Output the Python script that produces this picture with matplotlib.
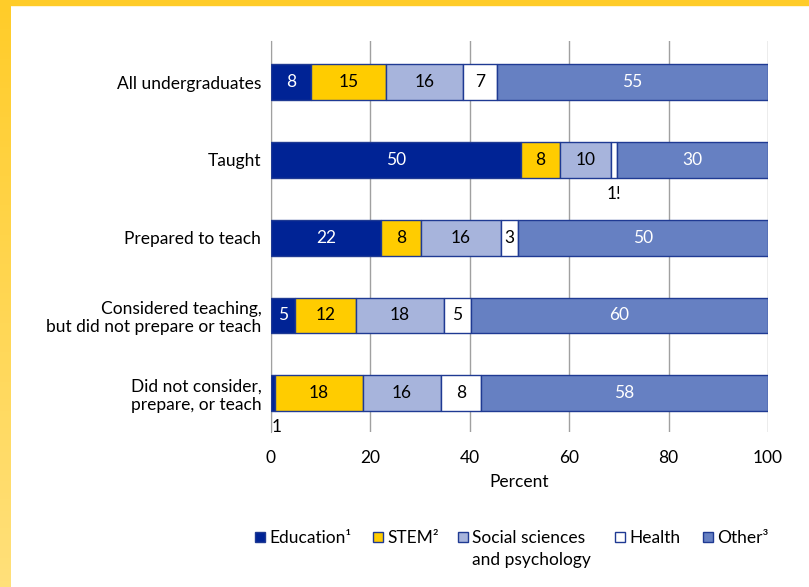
import numpy as np
import matplotlib.pyplot as plt
from matplotlib.patches import Rectangle

plt.rcParams['font.family'] = ['Lato', 'DejaVu Sans']

# data (percent)
groups = ['All undergraduates', 'Taught', 'Prepared to teach',
          'Considered teaching,\nbut did not prepare or teach',
          'Did not consider,\nprepare, or teach']
education = [8.0, 50.3, 22.1, 4.8, 0.8]
stem = [15.1, 7.8, 8.1, 12.3, 17.7]
social = [15.5, 10.3, 16.1, 17.7, 15.7]
health = [6.8, 1.2, 3.4, 5.4, 8.1]
other = [54.6, 30.4, 50.3, 59.8, 57.7]

edu_lbl = ['8', '50', '22', '5', '']
stem_lbl = ['15', '8', '8', '12', '18']
soc_lbl = ['16', '10', '16', '18', '16']
hea_lbl = ['7', '', '3', '5', '8']
oth_lbl = ['55', '30', '50', '60', '58']

series = [
    ('Education¹', education, edu_lbl, '#002395', 'white'),
    ('STEM²', stem, stem_lbl, '#FFCC00', 'black'),
    ('Social sciences\nand psychology', social, soc_lbl, '#A7B4DC', 'black'),
    ('Health', health, hea_lbl, '#FFFFFF', 'black'),
    ('Other³', other, oth_lbl, '#6680C2', 'white'),
]
edge = '#1F3A93'
fs = 12.5

fig = plt.figure(figsize=(8.09, 5.87), dpi=100)
W, H = 809, 587

# yellow frame
fig.patches.append(Rectangle((0, 1 - 5 / H), 1, 5 / H, transform=fig.transFigure,
                             color='#FFCC29', zorder=0))
gax = fig.add_axes([0, 0, 11 / W, 1])
grad = np.linspace(0, 1, 100)[:, None]
c0 = np.array([255, 204, 41]) / 255
c1 = np.array([255, 224, 122]) / 255
img = (c0[None, None, :] * (1 - grad[:, :, None]) + c1[None, None, :] * grad[:, :, None])
gax.imshow(img, aspect='auto', extent=[0, 1, 0, 1])
gax.axis('off')

ax = fig.add_axes([271 / W, 1 - 432 / H, (768 - 271) / W, (432 - 41) / H])
y = np.arange(len(groups))
left = np.zeros(len(groups))
for name, vals, lbls, col, tcol in series:
    vals = np.array(vals)
    ax.barh(y, vals, left=left, height=0.46, color=col, edgecolor=edge,
            linewidth=1, zorder=3)
    for yi, v, l, lb in zip(y, vals, left, lbls):
        if lb:
            ax.text(l + v / 2, yi, lb, ha='center', va='center', color=tcol,
                    fontsize=fs, zorder=4)
    left = left + vals

# small values labelled below the bars
ax.text(education[1] + stem[1] + social[1] + health[1] / 2, 1.44, '1!',
        ha='center', va='center', fontsize=fs)
ax.text(education[4] + 0.4, 4.43, '1', ha='center', va='center', fontsize=fs)

ax.set_xlim(0, 100)
ax.set_ylim(4.5, -0.53)
ax.set_xticks(np.arange(0, 101, 20))
ax.set_yticks(y)
ax.set_yticklabels(groups, fontsize=fs)
ax.tick_params(length=0, labelsize=fs)
ax.tick_params(axis='x', pad=13)
ax.tick_params(axis='y', pad=7)
ax.xaxis.grid(True, color='#A0A0A0', linewidth=1, zorder=0)
ax.set_axisbelow(True)
for s in ['top', 'right', 'bottom']:
    ax.spines[s].set_visible(False)
ax.spines['left'].set_color('#A0A0A0')
ax.set_xlabel('Percent', fontsize=fs, labelpad=6)

# legend drawn by hand so the two-line label hangs below the row
leg_x = [255, 373, 458, 615, 703]
for (name, vals, lbls, col, tcol), lx in zip(series, leg_x):
    fig.patches.append(Rectangle((lx / W, 1 - 542 / H), 10 / W, 10 / H,
                                 transform=fig.transFigure, facecolor=col,
                                 edgecolor=edge, linewidth=1))
    for i, line in enumerate(name.split('\n')):
        fig.text((lx + 14) / W, 1 - (543 + 22 * i) / H, line, ha='left',
                 va='baseline', fontsize=fs, transform=fig.transFigure)

fig.savefig('out.png', dpi=100)
